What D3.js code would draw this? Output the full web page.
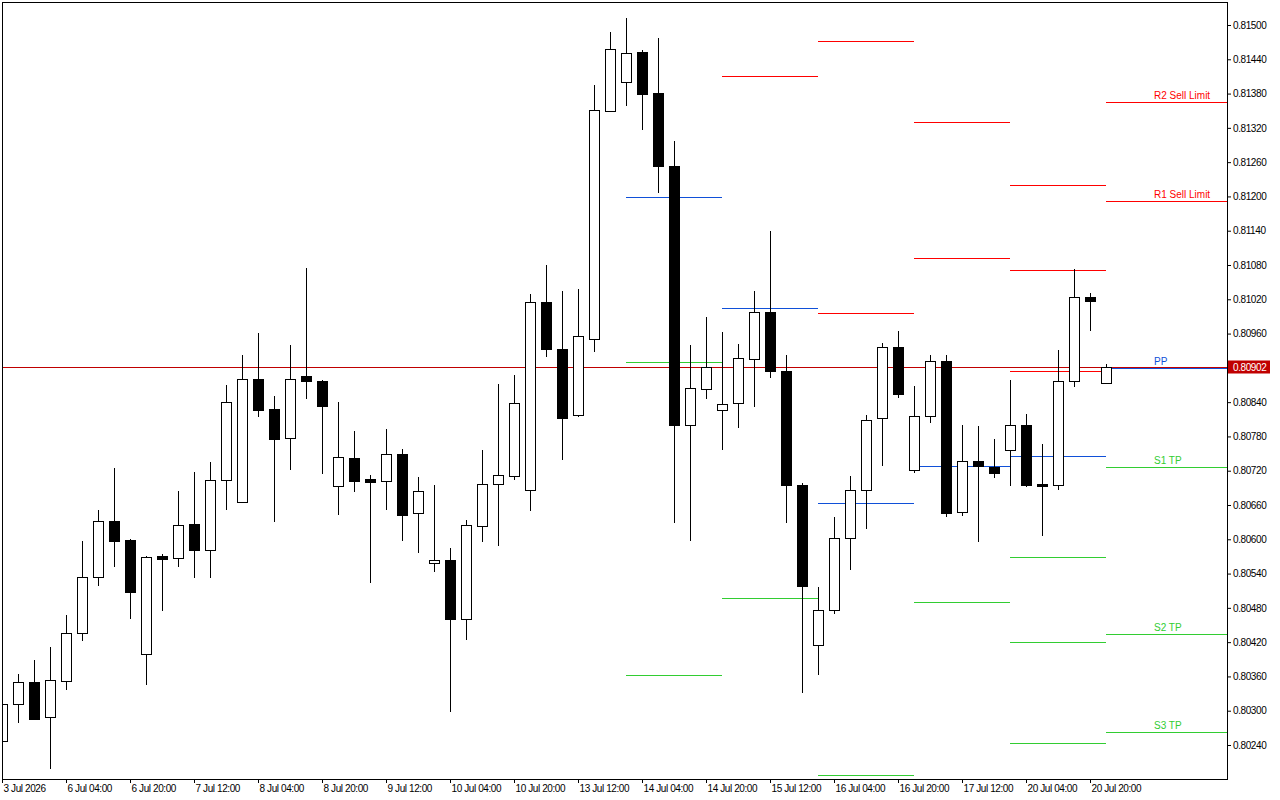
<!DOCTYPE html>
<html>
<head>
<meta charset="utf-8">
<script src="https://cdn.jsdelivr.net/npm/d3@7"></script>
<style>
  body { margin: 0; background: #fff; }
  text { font-family: "Liberation Sans", Arial, sans-serif; font-size: 10px; letter-spacing: -0.4px; }
</style>
</head>
<body>
<svg id="chart" width="1280" height="800"></svg>
<script>
// 4H candles, 3 Jul 2026 12:00 .. 21 Jul 2026 00:00
const opens  = [0.80247,0.80312,0.80350,0.80289,0.80352,0.80436,0.80534,0.80632,0.80599,0.80399,
                0.80570,0.80567,0.80627,0.80581,0.80704,0.80665,0.80881,0.80828,0.80777,0.80886,
                0.80877,0.80693,0.80742,0.80706,0.80702,0.80749,0.80646,0.80559,0.80564,0.80461,
                0.80623,0.80697,0.80711,0.80686,0.81015,0.80933,0.80818,0.80951,0.81350,0.81400,
                0.81453,0.81381,0.81253,0.80800,0.80863,0.80826,0.80839,0.80916,0.80998,0.80895,
                0.80695,0.80415,0.80476,0.80602,0.80686,0.80812,0.80937,0.80721,0.80816,0.80912,
                0.80648,0.80737,0.80727,0.80756,0.80800,0.80697,0.80695,0.80877,0.81024,0.80874];
const highs  = [0.80314,0.80364,0.80389,0.80412,0.80468,0.80597,0.80651,0.80725,0.80600,0.80570,
                0.80574,0.80685,0.80718,0.80735,0.80870,0.80923,0.80961,0.80851,0.80940,0.81075,
                0.80878,0.80840,0.80790,0.80713,0.80793,0.80758,0.80709,0.80695,0.80585,0.80634,
                0.80756,0.80872,0.80888,0.81029,0.81080,0.81035,0.81038,0.81395,0.81488,0.81512,
                0.81456,0.81477,0.81297,0.80940,0.80989,0.80963,0.80942,0.81035,0.81140,0.80923,
                0.80699,0.80517,0.80639,0.80711,0.80818,0.80944,0.80965,0.80868,0.80923,0.80923,
                0.80800,0.80798,0.80776,0.80879,0.80819,0.80767,0.80931,0.81073,0.81031,0.80907];
const lows   = [0.80245,0.80279,0.80285,0.80198,0.80336,0.80422,0.80518,0.80552,0.80461,0.80345,
                0.80475,0.80552,0.80532,0.80532,0.80651,0.80663,0.80814,0.80630,0.80721,0.80846,
                0.80714,0.80643,0.80683,0.80524,0.80651,0.80597,0.80576,0.80543,0.80298,0.80424,
                0.80595,0.80588,0.80704,0.80650,0.80919,0.80739,0.80814,0.80928,0.81348,0.81358,
                0.81316,0.81206,0.80629,0.80597,0.80846,0.80756,0.80795,0.80832,0.80882,0.80629,
                0.80331,0.80363,0.80469,0.80546,0.80618,0.80728,0.80847,0.80716,0.80804,0.80639,
                0.80641,0.80595,0.80707,0.80693,0.80692,0.80606,0.80686,0.80867,0.80965,0.80873];
const closes = [0.80312,0.80350,0.80286,0.80354,0.80436,0.80534,0.80632,0.80597,0.80508,0.80569,
                0.80566,0.80625,0.80581,0.80704,0.80840,0.80881,0.80826,0.80776,0.80881,0.80877,
                0.80833,0.80744,0.80702,0.80700,0.80749,0.80643,0.80685,0.80564,0.80461,0.80625,
                0.80697,0.80713,0.80839,0.81015,0.80933,0.80812,0.80956,0.81351,0.81458,0.81451,
                0.81379,0.81253,0.80800,0.80865,0.80902,0.80837,0.80917,0.80998,0.80895,0.80695,
                0.80518,0.80476,0.80602,0.80686,0.80809,0.80937,0.80854,0.80816,0.80912,0.80646,
                0.80737,0.80728,0.80716,0.80800,0.80695,0.80693,0.80877,0.81024,0.81017,0.80902];

// time axis labels (every 4th bar)
const xTickIndex  = [0,4,8,12,16,20,24,28,32,36,40,44,48,52,56,60,64,68];
const xTickLabels = ["3 Jul 2026","6 Jul 04:00","6 Jul 20:00","7 Jul 12:00","8 Jul 04:00",
                     "8 Jul 20:00","9 Jul 12:00","10 Jul 04:00","10 Jul 20:00","13 Jul 12:00",
                     "14 Jul 04:00","14 Jul 20:00","15 Jul 12:00","16 Jul 04:00","16 Jul 20:00",
                     "17 Jul 12:00","20 Jul 04:00","20 Jul 20:00"];
const yTicks = [0.80240,0.80300,0.80360,0.80420,0.80480,0.80540,0.80600,0.80660,0.80720,0.80780,
                0.80840,0.80900,0.80960,0.81020,0.81080,0.81140,0.81200,0.81260,0.81320,0.81380,
                0.81440,0.81500];

// daily pivot levels (null = off chart)
const pivotStart = [39, 45, 51, 57, 63, 69];
const pivotEnd   = [45, 51, 57, 63, 69, 78];
const r3 = [null, null, null, null, 0.81220, null];
const r2 = [null, null, 0.81472, 0.81330, 0.81071, 0.81365];
const r1 = [null, 0.81411, 0.80996, 0.81092, 0.80895, 0.81192];
const pp = [0.81199, 0.81005, 0.80664, 0.80728, 0.80746, 0.80900];
const s1 = [0.80910, 0.80497, 0.80188, 0.80490, 0.80569, 0.80727];
const s2 = [0.80363, null, null, null, 0.80420, 0.80434];
const s3 = [null, null, null, null, 0.80244, 0.80263];
const levelNames  = ["R3 TP", "R2 Sell Limit", "R1 Sell Limit", "PP", "S1 TP", "S2 TP", "S3 TP"];
const levelValues = [r3, r2, r1, pp, s1, s2, s3];

const RED = "#ff0000", BLUE = "#1050d8", GREEN = "#32cd32";
const levelColors = [RED, RED, RED, BLUE, GREEN, GREEN, GREEN];

const plotLeft = 2, plotRight = 1227, plotTop = 2, plotBottom = 779;
const svg = d3.select("#chart");
svg.append("rect").attr("width", 1280).attr("height", 800).attr("fill", "#fff");

const x = d3.scaleLinear().domain([0, 69]).range([2, 1106]);
const y = d3.scaleLinear().domain([0.8024, 0.8150]).range([745, 25]);
const cy = v => Math.round(y(v)) + 0.5;

svg.append("clipPath").attr("id", "plot")
  .append("rect").attr("x", plotLeft).attr("y", plotTop)
  .attr("width", plotRight - plotLeft).attr("height", plotBottom - plotTop);

const plot = svg.append("g").attr("clip-path", "url(#plot)");

// current price line
const last = closes[closes.length - 1];
plot.append("line")
  .attr("x1", plotLeft).attr("x2", plotRight)
  .attr("y1", cy(last)).attr("y2", cy(last))
  .attr("stroke", "#c00000").attr("stroke-width", 1);

// pivot segments
const segs = [];
levelValues.forEach((arr, k) => {
  arr.forEach((v, d) => {
    if (v != null) segs.push({ v, d, k });
  });
});
plot.selectAll("line.pivot")
  .data(segs)
  .enter()
  .append("line")
  .attr("class", "pivot")
  .attr("x1", s => x(pivotStart[s.d]))
  .attr("x2", s => x(pivotEnd[s.d]))
  .attr("y1", s => cy(s.v))
  .attr("y2", s => cy(s.v))
  .attr("stroke", s => levelColors[s.k])
  .attr("stroke-width", 1);

// labels on current day
const lastDay = pivotStart.length - 1;
const lbl = segs.filter(s => s.d === lastDay);
svg.selectAll("text.plabel")
  .data(lbl)
  .enter()
  .append("text")
  .attr("class", "plabel")
  .attr("x", x(pivotStart[lastDay]) + 48)
  .attr("y", s => cy(s.v) - 4)
  .attr("fill", s => levelColors[s.k])
  .style("letter-spacing", "0px")
  .text(s => levelNames[s.k]);

// candles
const bars = d3.range(opens.length).map(i => ({
  i, o: opens[i], h: highs[i], l: lows[i], c: closes[i]
}));

plot.selectAll("line.wick")
  .data(bars)
  .enter()
  .append("line")
  .attr("class", "wick")
  .attr("x1", d => x(d.i) + 0.5)
  .attr("x2", d => x(d.i) + 0.5)
  .attr("y1", d => Math.round(y(d.h)))
  .attr("y2", d => Math.round(y(d.l)))
  .attr("stroke", "#000")
  .attr("stroke-width", 1);

plot.selectAll("rect.body")
  .data(bars)
  .enter()
  .append("rect")
  .attr("class", "body")
  .attr("x", d => x(d.i) - 4.5)
  .attr("y", d => cy(Math.max(d.o, d.c)))
  .attr("width", 10)
  .attr("height", d => Math.max(1, cy(Math.min(d.o, d.c)) - cy(Math.max(d.o, d.c))))
  .attr("fill", d => d.c >= d.o ? "#fff" : "#000")
  .attr("stroke", "#000")
  .attr("stroke-width", 1);

// frame
svg.append("rect")
  .attr("x", plotLeft + 0.5).attr("y", plotTop + 0.5)
  .attr("width", plotRight - plotLeft).attr("height", plotBottom - plotTop)
  .attr("fill", "none").attr("stroke", "#000");

// price axis
const yAxis = svg.append("g")
  .attr("transform", `translate(${plotRight},0)`)
  .call(d3.axisRight(y).tickValues(yTicks).tickSize(4).tickPadding(2).tickFormat(d3.format(".5f")));
yAxis.select(".domain").remove();
yAxis.attr("font-family", null).attr("font-size", null);
yAxis.selectAll("text").attr("fill", "#000");

// current price tag
svg.append("rect")
  .attr("x", plotRight + 1).attr("y", cy(last) - 7)
  .attr("width", 42).attr("height", 13)
  .attr("fill", "#c00000");
svg.append("text")
  .attr("x", plotRight + 6).attr("y", cy(last))
  .attr("dy", "0.32em")
  .attr("fill", "#fff")
  .text(d3.format(".5f")(last));

// time axis
const xAxis = svg.append("g")
  .attr("transform", `translate(0,${plotBottom})`)
  .call(d3.axisBottom(x).tickValues(xTickIndex).tickSize(4)
    .tickFormat((d, i) => xTickLabels[i]));
xAxis.select(".domain").remove();
xAxis.attr("font-family", null).attr("font-size", null);
xAxis.selectAll("text")
  .attr("text-anchor", "start")
  .attr("x", 1)
  .attr("y", 13)
  .attr("dy", null)
  .attr("fill", "#000");
</script>
</body>
</html>
